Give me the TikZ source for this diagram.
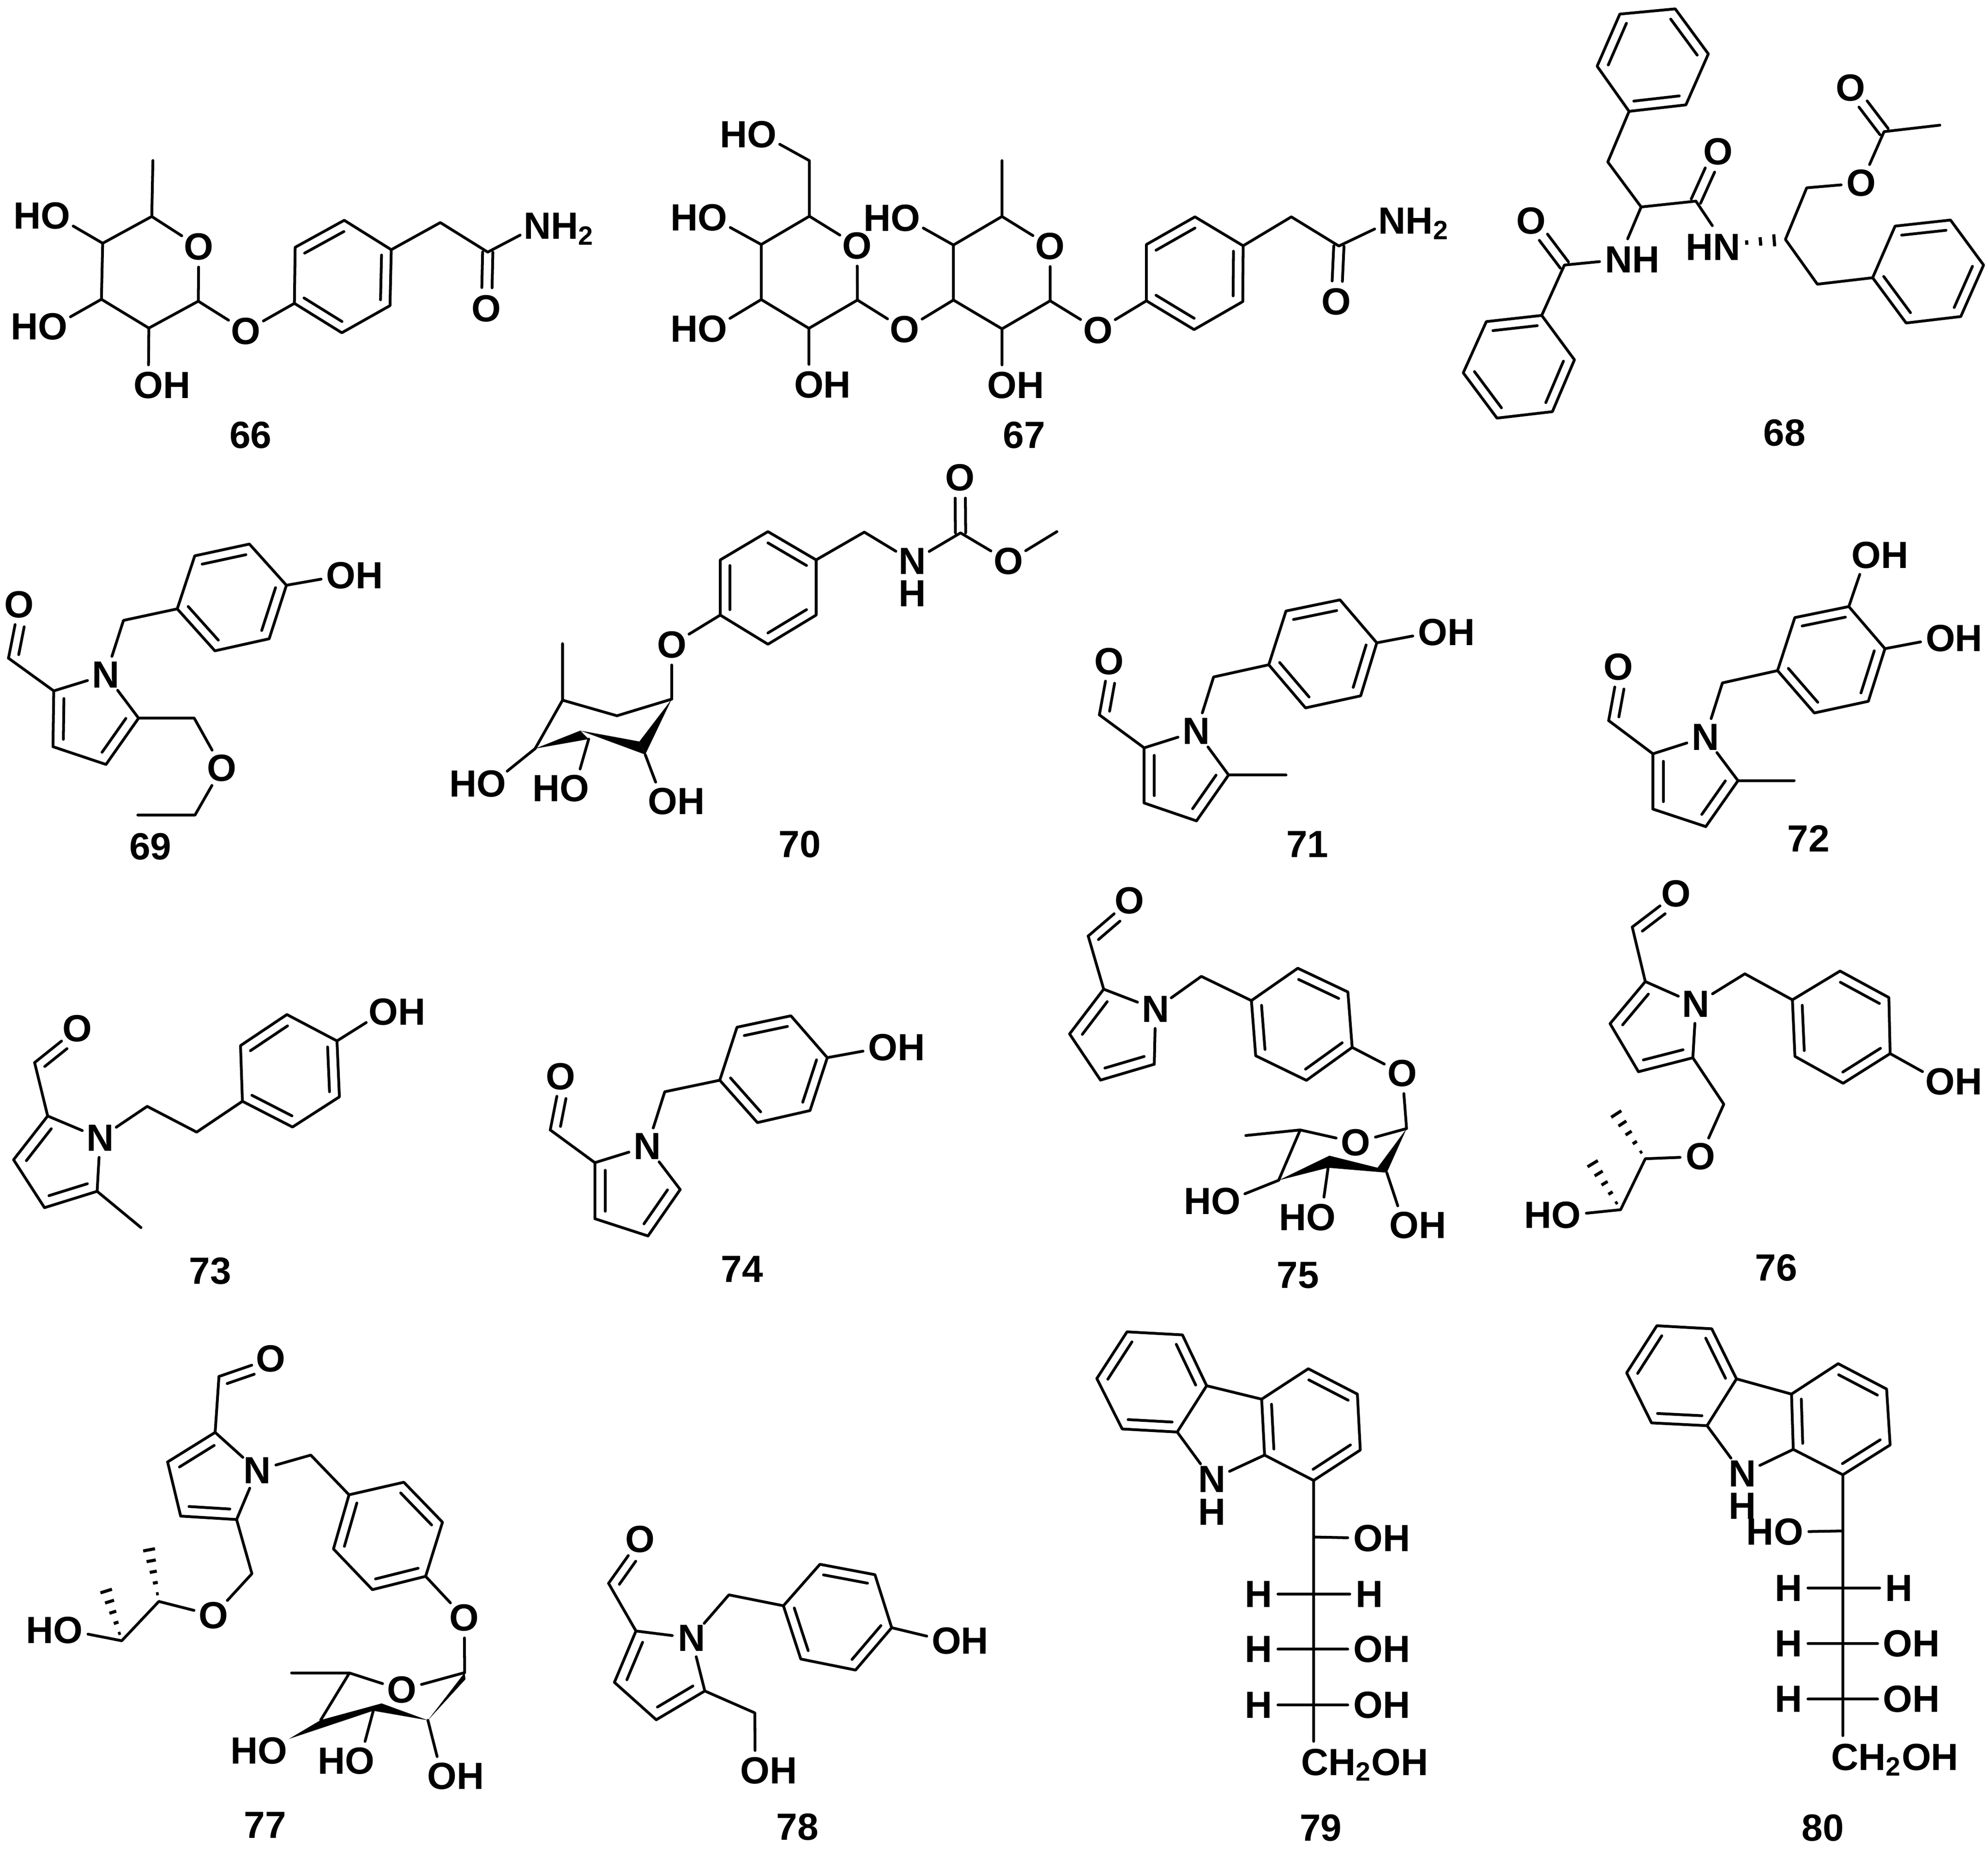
\documentclass[tikz,border=0pt]{standalone}
\usepackage{fontspec}
\setmainfont{Liberation Sans}
\usetikzlibrary{calc}
\tikzset{
	bond/.style={line width=1.25pt, line cap=round, line join=round},
	hashbar/.style={line width=1.4pt},
	atm/.style={circle, inner sep=0pt, minimum size=17pt, font=\fontsize{17}{17}\selectfont\bfseries},
	num/.style={inner sep=0pt, font=\fontsize{17}{17}\selectfont\bfseries},
}
\def\fivebars{.14/.6,.34/1.1,.54/1.6,.74/2.1,.94/2.7}
\newcommand{\atoms}[1]{\foreach \n/\px/\py in {#1} \coordinate (\n) at (\px,\py);}
\newcommand{\ringdbl}[4][.2]{\draw[bond] ($(#2)!#1!(#4)$) -- ($(#3)!#1!(#4)$);}
\newcommand{\benzene}[1]{
	\draw[bond] (#11) -- (#12) -- (#13) -- (#14) -- (#15) -- (#16) -- cycle;
	\coordinate (#1c) at ($(#11)!.5!(#14)$);
	\ringdbl{#11}{#12}{#1c}
	\ringdbl{#13}{#14}{#1c}
	\ringdbl{#15}{#16}{#1c}
}
\newcommand{\pyrrole}[2]{
	\draw[bond] (#2) -- (#11) -- (#12) -- (#13) -- (#14) -- (#2);
	\coordinate (#1c) at ($(#12)!.5!(#13)!.45!(#2)$);
	\ringdbl[.27]{#11}{#12}{#1c}
	\ringdbl[.27]{#13}{#14}{#1c}
}
\newcommand{\dbl}[2]{\draw[bond] ($(#1)!2.3pt!90:(#2)$) -- ($(#1)!.63!(#2)!2.3pt!90:(#2)$) ($(#1)!2.3pt!-90:(#2)$) -- ($(#1)!.63!(#2)!2.3pt!-90:(#2)$);}
\newcommand{\ald}[2]{\draw[bond] (#1) -- (#2) ($(#1)!.1!(#2)!4.2pt!-90:(#2)$) -- ($(#1)!.62!(#2)!4.2pt!-90:(#2)$);}
\newcommand{\hashb}[3]{\foreach \t/\h in #3 \draw[hashbar] ($(#1)!\t!(#2)!\h pt!90:(#2)$) -- ($(#1)!\t!(#2)!\h pt!-90:(#2)$);}
\begin{document}
\begin{tikzpicture}[x=0.02cm, y=-0.02cm]
	\useasboundingbox (0,0) rectangle (1568,1458);
	%%%%% 66 %%%%%
	\atoms{me66/120.6/126.6,c665/119.7/170.7,c664/81/191.8,c663/80/236,c662/117.4/258.7,c661/156.4/237.5}
	\atoms{a661/232.8/195,a662/271.5/173.7,a663/308.6/196.9,a664/307.6/241,a665/269.6/262.4,a666/232.2/239.2}
	\atoms{d661/347.3/175.5,d662/384.7/198.8}
	\node[atm] (o661) at (156.8,194.6) {O};
	\node[atm] (o662) at (193.8,261) {O};
	\node[atm] (o663) at (43.9,170.2) {\llap{H}O};
	\node[atm] (o664) at (41.6,257.7) {\llap{H}O};
	\node[atm] (o665) at (117,303.7) {O\rlap{H}};
	\node[atm] (o666) at (383.7,243.3) {O};
	\node[atm] (n66) at (423.8,178.3) {N\rlap{\smash{H\textsubscript{2}}}};
	\draw[bond] (me66) -- (c665) -- (c664) -- (c663) -- (c662) -- (c661) -- (o661) -- (c665);
	\draw[bond] (c664) -- (o663) (c663) -- (o664) (c662) -- (o665);
	\draw[bond] (c661) -- (o662) -- (a666) (a663) -- (d661) -- (d662) -- (n66);
	\benzene{a66}
	\dbl{d662}{o666}
	\node[num] (l66) at (197.7,343) {66};
	%%%%% 67 %%%%%
	\atoms{f67/638.4/126.7,g675/638.4/170.5,g674/600.4/192.8,g673/600.4/236.2,g672/638/258.9,g671/676.3/236.6}
	\atoms{me67/790.3/126.7,c675/790.3/170.7,c674/752/193.2,c673/752/236.6,c672/790.3/259.3,c671/828.3/237.2}
	\atoms{a671/904.2/192.8,a672/942.5/171,a673/980.5/193.8,a674/980.2/237.8,a675/941.8/259.9,a676/904.2/237.2}
	\atoms{d671/1018.5/171,d672/1056/194}
	\node[atm] (o671) at (601,106) {\llap{H}O};
	\node[atm] (o672) at (676,193.8) {O};
	\node[atm] (o673) at (562,171.7) {\llap{H}O};
	\node[atm] (o674) at (562,259.3) {\llap{H}O};
	\node[atm] (o675) at (638,303.3) {O\rlap{H}};
	\node[atm] (o676) at (713.6,259.9) {O};
	\node[atm] (o677) at (714.3,172) {\llap{H}O};
	\node[atm] (o678) at (828.3,194.2) {O};
	\node[atm] (o679) at (790.3,303.7) {O\rlap{H}};
	\node[atm] (o6710) at (865.9,260.3) {O};
	\node[atm] (o6711) at (1054,238) {O};
	\node[atm] (n67) at (1098,174) {N\rlap{\smash{H\textsubscript{2}}}};
	\draw[bond] (o671) -- (f67) -- (g675) -- (g674) -- (g673) -- (g672) -- (g671) -- (o672) -- (g675);
	\draw[bond] (g674) -- (o673) (g673) -- (o674) (g672) -- (o675) (g671) -- (o676) -- (c673);
	\draw[bond] (me67) -- (c675) -- (c674) -- (c673) -- (c672) -- (c671) -- (o678) -- (c675);
	\draw[bond] (c674) -- (o677) (c672) -- (o679) (c671) -- (o6710) -- (a676);
	\draw[bond] (a673) -- (d671) -- (d672) -- (n67);
	\benzene{a67}
	\dbl{d672}{o6711}
	\node[num] (l67) at (807.7,343.2) {67};
	%%%%% 68 %%%%%
	\atoms{a681/1259.7/52.2,a682/1277.6/11.1,a683/1321.3/7,a684/1347.4/42.5,a685/1329.7/82.7,a686/1284.9/87.8}
	\atoms{b681/1172.3/253.6,b682/1216/248.7,b683/1241.8/283.7,b684/1224.4/324.6,b685/1180.7/329.7,b686/1154.1/294}
	\atoms{e681/1494.7/178.3,e682/1538.4/173.5,e683/1564.5/209,e684/1546.5/249.6,e685/1503.4/254.7,e686/1477/219}
	\atoms{d681/1268.1/127.7,d682/1294.4/163.2,d683/1337.6/158.6,d684/1233.9/209}
	\atoms{d685/1408.2/188.8,d686/1425/148.1,d687/1486/103.8,me68/1530/98.7,d688/1433.4/224.1,hs68/1368/192}
	\node[atm] (o681) at (1355.2,119.6) {O};
	\node[atm] (o682) at (1207.6,174.2) {O};
	\node[atm] (o683) at (1468.1,144.4) {O};
	\node[atm] (o684) at (1459.7,69.2) {O};
	\node[atm] (n681) at (1276.8,204.8) {N\rlap{H}};
	\node[atm] (n682) at (1362,195) {\llap{H}N};
	\draw[bond] (a686) -- (d681) -- (d682) -- (d683);
	\draw[bond, shorten >=1.5pt] (d682) -- (n681);
	\draw[bond, shorten >=3pt] (d683) -- (n682);
	\draw[bond] (n681) -- (d684) -- (b682);
	\draw[bond] (e686) -- (d688) -- (d685) -- (d686) -- (o683) -- (d687) -- (me68);
	\benzene{a68}
	\benzene{b68}
	\benzene{e68}
	\dbl{d683}{o681}
	\dbl{d684}{o682}
	\dbl{d687}{o684}
	\hashb{hs68}{d685}{{.24/1,.51/1.9,.78/2.7}}
	\node[num] (l68) at (1407.6,341.3) {68};
	%%%%% 69 %%%%%
	\atoms{p691/42.4/544.8,p692/41.8/588.8,p693/83.6/602.8,p694/109.3/566.3,d691/6.7/519,d692/97.4/489.2,d693/153.2/566.3,d694/153.8/642.7,me69/108.7/642.7}
	\atoms{a691/153.6/438.3,a692/196.7/429,a693/225.9/461.5,a694/212.3/503.7,a695/169.5/513.2,a696/139.8/480.1}
	\node[atm] (n69) at (83.6,532.1) {N};
	\node[atm] (o691) at (15,476.8) {O};
	\node[atm] (o692) at (269,453.9) {O\rlap{H}};
	\node[atm] (o693) at (175.1,605.5) {O};
	\pyrrole{p69}{n69}
	\draw[bond] (p691) -- (d691) (n69) -- (d692) -- (a696) (a693) -- (o692);
	\draw[bond] (p694) -- (d693) -- (o693) -- (d694) -- (me69);
	\ald{d691}{o691}
	\benzene{a69}
	\node[num] (l69) at (118.7,667.6) {69};
	%%%%% 70 %%%%%
	\atoms{a701/605.7/419.2,a702/643.7/441.5,a703/643.7/485,a704/605.7/508,a705/568.1/485,a706/568.1/441.5}
	\atoms{d701/681.7/419.6,d702/757.6/420.2,me70/833.6/419.2,me71/443.7/507.6}
	\atoms{s701/529.8/551.3,s702/486.6/564.4,s703/443.7/552.1,s704/422.1/590.3,s705/457.7/576.1,s706/508.9/595,w701/504.3/584.7,w702/464.3/582.8}
	\node[atm] (n70) at (719.7,442.6) {N};
	\node[num] (h70) at (719.7,468) {H};
	\node[atm] (o701) at (757.3,376.7) {O};
	\node[atm] (o702) at (795.3,442.6) {O};
	\node[atm] (o703) at (529.8,508.4) {O};
	\node[atm] (o704) at (387.6,618.1) {\llap{H}O};
	\node[atm] (o705) at (453.1,621.7) {\llap{H}O};
	\node[atm] (o706) at (522.8,631.7) {O\rlap{H}};
	\benzene{a70}
	\draw[bond] (a702) -- (d701) -- (n70) -- (d702) -- (o702) -- (me70);
	\dbl{d702}{o701}
	\draw[bond] (a705) -- (o703) -- (s701) -- (s702) -- (s703) -- (s704) (s703) -- (me71);
	\fill (s704) -- (s705) -- (w702) -- cycle;
	\fill (s705) -- (s706) -- (w701) -- cycle;
	\fill (s701) -- (s706) -- (w701) -- cycle;
	\draw[bond] (s704) -- (o704) (w702) -- (o705) (s706) -- (o706);
	\node[num] (l70) at (630.8,665.8) {70};
	%%%%% 71 %%%%%
	\atoms{p711/902.4/589.7,p712/902.4/633.2,p713/943.7/647.3,p714/969/611.1,d711/867.1/563.7,d712/957.2/533.8,me711/1014.3/611.1}
	\atoms{a711/1014.3/481.8,a712/1056.9/473,a713/1085.9/506.9,a714/1073.2/548.7,a715/1029.7/558.2,a716/1000.7/524.2}
	\node[atm] (n71) at (943.7,576.7) {N};
	\node[atm] (o711) at (874.8,521.4) {O};
	\node[atm] (o712) at (1130,498.5) {O\rlap{H}};
	\pyrrole{p71}{n71}
	\draw[bond] (p711) -- (d711) (p714) -- (me711) (n71) -- (d712) -- (a716) (a713) -- (o712);
	\ald{d711}{o711}
	\benzene{a71}
	\node[num] (l71) at (1031.1,665.7) {71};
	%%%%% 72 %%%%%
	\atoms{p721/1303.7/594.4,p722/1303.7/638,p723/1345.4/651.8,p724/1370.8/615.6,d721/1268.8/568.2,d722/1358.5/538.5,me72/1415.1/615.6}
	\atoms{a721/1415.6/487,a722/1458.2/478.3,a723/1486.7/511.5,a724/1473.6/553,a725/1431/562.2,a726/1402/528.8}
	\node[atm] (n72) at (1345,581.2) {N};
	\node[atm] (o721) at (1276.5,526) {O};
	\node[atm] (o722) at (1472,437.8) {O\rlap{H}};
	\node[atm] (o723) at (1530.5,503.2) {O\rlap{H}};
	\pyrrole{p72}{n72}
	\draw[bond] (p721) -- (d721) (p724) -- (me72) (n72) -- (d722) -- (a726) (a722) -- (o722) (a723) -- (o723);
	\ald{d721}{o721}
	\benzene{a72}
	\node[num] (l72) at (1426.4,661.3) {72};
	%%%%% 73 %%%%%
	\atoms{p731/37.6/880,p732/10.7/914.5,p733/35.1/952.3,p734/76.6/939.4,d731/27.3/837.9,d732/116.1/872.4,d733/155.1/892.7,me73/111.2/968}
	\atoms{a731/189.7/824.5,a732/226.3/800,a733/265.8/820.8,a734/267.7/864.9,a735/230.7/888.7,a736/191.2/868.4}
	\node[atm] (n73) at (79,897.4) {N};
	\node[atm] (o731) at (61,810.9) {O};
	\node[atm] (o732) at (302.4,797.8) {O\rlap{H}};
	\pyrrole{p73}{n73}
	\draw[bond] (p731) -- (d731) (p734) -- (me73) (n73) -- (d732) -- (d733) -- (a736) (a733) -- (o732);
	\ald{d731}{o731}
	\benzene{a73}
	\node[num] (l73) at (165.8,1002.1) {73};
	%%%%% 74 %%%%%
	\atoms{p741/469.2/916.8,p742/469.2/961,p743/511.1/974.6,p744/536.5/938,d741/434/891,d742/524.3/860.9}
	\atoms{a741/581.3/810,a742/623.8/801,a743/652.5/834,a744/638.9/875.7,a745/597.4/885.2,a746/567.7/851.8}
	\node[atm] (n74) at (510.6,904) {N};
	\node[atm] (o741) at (442.3,848.8) {O};
	\node[atm] (o742) at (696.4,826) {O\rlap{H}};
	\pyrrole{p74}{n74}
	\draw[bond] (p741) -- (d741) (n74) -- (d742) -- (a746) (a743) -- (o742);
	\ald{d741}{o741}
	\benzene{a74}
	\node[num] (l74) at (585.2,1000.7) {74};
	%%%%% 75 %%%%%
	\atoms{p751/870.5/780,p752/843.6/815.3,p753/868/851.7,p754/910.4/839.2,d751/858.3/738.1,d752/947.5/769.9}
	\atoms{a751/1023.6/763.5,a752/1063.1/782.2,a753/1066.5/825.9,a754/1030.4/851.9,a755/990.4/832.5,a756/987/789}
	\atoms{s751/1109.4/889.9,s755/1025.5/891,me75/982.6/895.4,s754/1008.5/930.7,s753/1048.5/911.3,w751/1047.5/920.8,w752/1086.5/920.8,w753/1093.8/924.7}
	\node[atm] (n75) at (911.4,795.7) {N};
	\node[atm] (o751) at (890.9,710.1) {O};
	\node[atm] (o752) at (1106,846.4) {O};
	\node[atm] (o753) at (1069.4,900.9) {O};
	\node[atm] (o754) at (967,947.3) {\llap{H}O};
	\node[atm] (o755) at (1042,959.8) {\llap{H}O};
	\node[atm] (o756) at (1107.5,966) {O\rlap{H}};
	\pyrrole{p75}{n75}
	\draw[bond] (p751) -- (d751) (n75) -- (d752) -- (a756) (a753) -- (o752) -- (s751) -- (o753) -- (s755) -- (me75) (s755) -- (s754);
	\ald{d751}{o751}
	\benzene{a75}
	\fill (s754) -- (s753) -- (w752) -- (w753) -- (w751) -- cycle;
	\fill (s751) -- (w753) -- (w752) -- cycle;
	\draw[bond] (s754) -- (o754) (w751) -- (o755) (w753) -- (o756);
	\node[num] (l75) at (1023.6,1005.7) {75};
	%%%%% 76 %%%%%
	\atoms{p761/1297.7/774,p762/1269.9/807.2,p763/1292.3/845.1,p764/1335.2/834.1,d761/1287.4/731,d762/1376.2/767.9}
	\atoms{a761/1451.3/765.7,a762/1489.8/786.6,a763/1490.8/830.8,a764/1453.7/854.2,a765/1415.7/833,a766/1413.7/788.4}
	\atoms{d763/1359.6/870.7,d764/1297.7/913.7,d765/1278.2/953.9,me761/1273.3/876.2,me762/1254.8/915.3}
	\node[atm] (n76) at (1337.7,791.7) {N};
	\node[atm] (o761) at (1322,704.6) {O};
	\node[atm] (o762) at (1530.3,852.8) {O\rlap{H}};
	\node[atm] (o763) at (1341.1,912) {O};
	\node[atm] (o764) at (1235.3,958.3) {\llap{H}O};
	\pyrrole{p76}{n76}
	\draw[bond] (p761) -- (d761) (n76) -- (d762) -- (a766) (a763) -- (o762);
	\draw[bond] (p764) -- (d763) -- (o763) -- (d764) -- (d765) -- (o764);
	\ald{d761}{o761}
	\benzene{a76}
	\hashb{d764}{me761}{\fivebars}
	\hashb{d765}{me762}{\fivebars}
	\node[num] (l76) at (1401,999.5) {76};
	%%%%% 77 %%%%%
	\atoms{p771/169.7/1129.5,p772/132.2/1152.8,p773/142.5/1195.5,p774/186.6/1198.2,d771/172.7/1085.4,d772/245.1/1147.4}
	\atoms{a771/318.5/1168.8,a772/349/1200.3,a773/335.7/1243,a774/293.7/1253.5,a775/263/1221.4,a776/275.3/1178.7}
	\atoms{d773/198.7/1240.9,d774/125.3/1262.8,d775/96/1293.8,me771/117.1/1219.5,me772/83/1252.1}
	\atoms{s771/366.5/1318.9,w770/367.1/1324.2,s772/337.5/1356.5,s775/275.6/1319.2,me773/230/1319.2,s774/253/1356.3,s773/301/1343.2,w771/294.4/1349,w772/227.9/1371.2}
	\node[atm] (n77) at (202.9,1159.4) {N};
	\node[atm] (o771) at (213.7,1071.3) {O};
	\node[atm] (o772) at (366.2,1275.6) {O};
	\node[atm] (o773) at (317,1332.5) {O};
	\node[atm] (o774) at (168.5,1273.8) {O};
	\node[atm] (o775) at (53.7,1285.5) {\llap{H}O};
	\node[atm] (o776) at (215,1380.6) {\llap{H}O};
	\node[atm] (o777) at (283.8,1388.6) {\llap{H}O};
	\node[atm] (o778) at (348.7,1400.6) {O\rlap{H}};
	\pyrrole{p77}{n77}
	\draw[bond] (p771) -- (d771) (n77) -- (d772) -- (a776) (a773) -- (o772) -- (s771) -- (o773) -- (s775) -- (me773) (s775) -- (s774);
	\draw[bond] (p774) -- (d773) -- (o774) -- (d774) -- (d775) -- (o775);
	\ald{d771}{o771}
	\benzene{a77}
	\hashb{d774}{me771}{\fivebars}
	\hashb{d775}{me772}{\fivebars}
	\fill (w772) -- (s774) -- (s773) -- (s772) -- (w771) -- cycle;
	\fill (s771) -- (w770) -- (s772) -- cycle;
	\draw[bond] (w771) -- (o777) (s772) -- (o778);
	\node[num] (l77) at (209.2,1439.3) {77};
	%%%%% 78 %%%%%
	\atoms{p781/501.6/1286.1,p782/484.6/1326.6,p783/517.6/1356.1,p784/555.9/1333.4,d781/480/1248.5,d782/574.9/1257.6,d783/595.4/1350.7}
	\atoms{a781/646.7/1233.5,a782/690.1/1241.7,a783/703.3/1283.5,a784/674.8/1316.9,a785/631.6/1308.2,a786/617.9/1266.2}
	\node[atm] (n78) at (545.4,1291.6) {N};
	\node[atm] (o781) at (504.8,1213.6) {O};
	\node[atm] (o782) at (746.5,1293.9) {O\rlap{H}};
	\node[atm] (o783) at (595.6,1396.3) {O\rlap{H}};
	\pyrrole{p78}{n78}
	\draw[bond] (p781) -- (d781) (n78) -- (d782) -- (a786) (a783) -- (o782) (p784) -- (d783) -- (o783);
	\ald{d781}{o781}
	\benzene{a78}
	\node[num] (l78) at (629,1440.7) {78};
	%%%%% 79 %%%%%
	\atoms{a791/865.1/1087,a792/888.9/1050.2,a793/932.6/1052.6,a794/951.7/1092.7,a795/928.5/1129.2,a796/885.1/1126.8}
	\atoms{b791/1031.9/1079.3,b792/1070.6/1099.3,b793/1072.9/1143.4,b794/1036.1/1167.4,b795/997.4/1147.4,b796/995.1/1103.3}
	\atoms{k791/1036.1/1212,k792/1036.1/1373.1}
	\node[atm] (n79) at (955.9,1166.6) {N};
	\node[num] (h79) at (955.9,1192.3) {H};
	\node[atm] (o791) at (1079,1212.9) {O\rlap{H}};
	\node[atm] (h791) at (992.7,1257) {H};
	\node[atm] (h792) at (1079.9,1257) {H};
	\benzene{a79}
	\benzene{b79}
	\draw[bond] (a794) -- (b796) (a795) -- (n79) -- (b795) (b794) -- (k792) (k791) -- (o791) (h791) -- (h792);
	\foreach \i/\r in {3/1300.5,4/1344.5} {
		\node[atm] (h79\i) at (992.7,\r) {H};
		\node[atm] (o79\i) at (1079,\r) {O\rlap{H}};
		\draw[bond] (h79\i) -- (o79\i);
	}
	\node[num, anchor=base] (t79) at (1076.4,1399.8) {CH\textsubscript{2}OH};
	\node[num] (l79) at (1041.7,1441.2) {79};
	%%%%% 80 %%%%%
	\atoms{a801/1283/1082.5,a802/1306.8/1045.4,a803/1350.1/1047.8,a804/1369.6/1087.3,a805/1346.4/1124.2,a806/1302.6/1122}
	\atoms{b801/1449.8/1075.3,b802/1488/1095.3,b803/1490.8/1139.4,b804/1453.5/1162.9,b805/1414.4/1142.9,b806/1413/1099.3}
	\atoms{k801/1453.5/1207.2,k802/1453.5/1368.6}
	\node[atm] (n80) at (1374.3,1162.1) {N};
	\node[num] (h80) at (1374.3,1187.5) {H};
	\node[atm] (o801) at (1410.7,1208) {\llap{H}O};
	\node[atm] (h801) at (1410.7,1252.2) {H};
	\node[atm] (h802) at (1497.8,1252.2) {H};
	\benzene{a80}
	\benzene{b80}
	\draw[bond] (a804) -- (b806) (a805) -- (n80) -- (b805) (b804) -- (k802) (k801) -- (o801) (h801) -- (h802);
	\foreach \i/\r in {3/1296,4/1339.8} {
		\node[atm] (h80\i) at (1410.7,\r) {H};
		\node[atm] (o80\i) at (1496.9,\r) {O\rlap{H}};
		\draw[bond] (h80\i) -- (o80\i);
	}
	\node[num, anchor=base] (t80) at (1494.5,1395.8) {CH\textsubscript{2}OH};
	\node[num] (l80) at (1437.7,1441.2) {80};
\end{tikzpicture}
\end{document}
